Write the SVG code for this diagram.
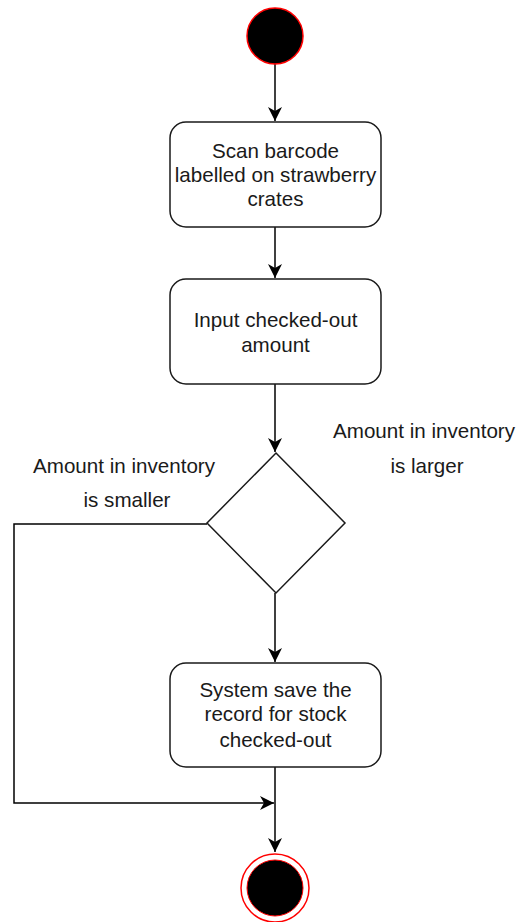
<svg xmlns="http://www.w3.org/2000/svg" width="519" height="922" viewBox="0 0 519 922">
<style>
.box{fill:#fff;stroke:#1a1a1a;stroke-width:1.5}
.t{font-family:"Liberation Sans",Arial,sans-serif;font-size:20.6px;fill:#1a1a1a;text-anchor:middle}
.c{fill:none;stroke:#000;stroke-width:1.5}
</style>
<defs>
<marker id="ar" markerUnits="userSpaceOnUse" markerWidth="15" markerHeight="14" refX="14" refY="7" orient="auto">
<path d="M0,0 L14,7 L0,14 L4,7 z" fill="#000"/>
</marker>
</defs>
<rect width="519" height="922" fill="#fff"/>
<g id="connectors">
<line class="c" x1="275" y1="64" x2="275" y2="121" marker-end="url(#ar)"/>
<line class="c" x1="275" y1="227" x2="275" y2="278" marker-end="url(#ar)"/>
<line class="c" x1="275" y1="384" x2="275" y2="452" marker-end="url(#ar)"/>
<line class="c" x1="275" y1="593" x2="275" y2="662" marker-end="url(#ar)"/>
<polyline class="c" points="207,524 14,524 14,803 274,803" marker-end="url(#ar)"/>
<line class="c" x1="275" y1="767" x2="275" y2="852" marker-end="url(#ar)"/>
</g>
<g id="start">
<circle cx="275" cy="36" r="28" fill="#000" stroke="#ff0000" stroke-width="1.5"/>
</g>
<g id="scan">
<rect class="box" x="170" y="122" width="211" height="105" rx="16"/>
<text class="t" x="275.5" y="158">Scan barcode</text>
<text class="t" x="275.5" y="182">labelled on strawberry</text>
<text class="t" x="275.5" y="206">crates</text>
</g>
<g id="input">
<rect class="box" x="170" y="279" width="211" height="105" rx="16"/>
<text class="t" x="275.5" y="327">Input checked-out</text>
<text class="t" x="275.5" y="352">amount</text>
</g>
<g id="decision">
<polygon class="box" points="276,453 345,523 276,593 207,523"/>
</g>
<g id="label-larger">
<text class="t" x="424" y="438">Amount in inventory</text>
<text class="t" x="427" y="473">is larger</text>
</g>
<g id="label-smaller">
<text class="t" x="124" y="473">Amount in inventory</text>
<text class="t" x="127" y="507">is smaller</text>
</g>
<g id="save">
<rect class="box" x="170" y="663" width="211" height="104" rx="16"/>
<text class="t" x="275.5" y="697">System save the</text>
<text class="t" x="275.5" y="721">record for stock</text>
<text class="t" x="275.5" y="747">checked-out</text>
</g>
<g id="end">
<circle cx="275" cy="888" r="34" fill="#fff" stroke="#ff0000" stroke-width="1.5"/>
<circle cx="275" cy="888" r="28" fill="#000" stroke="#ff0000" stroke-width="1"/>
</g>
</svg>
